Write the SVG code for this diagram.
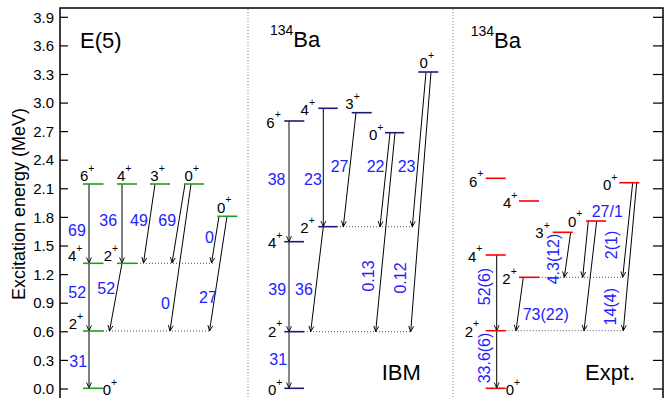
<svg xmlns="http://www.w3.org/2000/svg" width="667" height="398" viewBox="0 0 667 398">
<defs>
<style>
text{font-family:"Liberation Sans",Arial,sans-serif;}
.tick{font-size:15px;fill:#000;text-anchor:end;}
.lab{font-size:15px;fill:#000;}
.sup{font-size:10.5px;}
.num{font-size:16px;fill:#2121ff;}
.rot{font-size:16px;fill:#2121ff;text-anchor:middle;}
.title{font-size:22px;fill:#000;}
.g{stroke:#1f9f1f;stroke-width:1.6;}
.b{stroke:#1c1c78;stroke-width:1.6;}
.r{stroke:#ff0000;stroke-width:1.6;}
.arr{stroke:#000;stroke-width:1;fill:none;marker-end:url(#ah);}
.arrg{stroke:#555;stroke-width:1.4;fill:none;marker-end:url(#ah);}
.dot{stroke:#555;stroke-width:1;stroke-dasharray:1,2;}
.div{stroke:#888;stroke-width:1;stroke-dasharray:1,2;}
.ax{stroke:#000;stroke-width:1.5;fill:none;}
.tk{stroke:#000;stroke-width:1.2;}
</style>
<marker id="ah" viewBox="0 0 10 10" refX="9" refY="5" markerWidth="7" markerHeight="7" markerUnits="userSpaceOnUse" orient="auto">
<path d="M1,1.5 L9,5 L1,8.5" fill="none" stroke="#000" stroke-width="1.3"/>
</marker>
</defs>
<rect width="667" height="398" fill="#fff"/>

<g id="axes">
<path class="ax" d="M60,398 L60,8 L663,8 L663,398"/>
<g class="tk">
<line x1="60" y1="17.3" x2="68" y2="17.3"/><line x1="60" y1="45.9" x2="68" y2="45.9"/>
<line x1="60" y1="74.5" x2="68" y2="74.5"/><line x1="60" y1="103.1" x2="68" y2="103.1"/>
<line x1="60" y1="131.6" x2="68" y2="131.6"/><line x1="60" y1="160.2" x2="68" y2="160.2"/>
<line x1="60" y1="188.8" x2="68" y2="188.8"/><line x1="60" y1="217.4" x2="68" y2="217.4"/>
<line x1="60" y1="246" x2="68" y2="246"/><line x1="60" y1="274.6" x2="68" y2="274.6"/>
<line x1="60" y1="303.2" x2="68" y2="303.2"/><line x1="60" y1="331.8" x2="68" y2="331.8"/>
<line x1="60" y1="360.4" x2="68" y2="360.4"/><line x1="60" y1="389" x2="68" y2="389"/>
<line x1="653" y1="17.3" x2="663" y2="17.3"/><line x1="653" y1="45.9" x2="663" y2="45.9"/>
<line x1="653" y1="74.5" x2="663" y2="74.5"/><line x1="653" y1="103.1" x2="663" y2="103.1"/>
<line x1="653" y1="131.6" x2="663" y2="131.6"/><line x1="653" y1="160.2" x2="663" y2="160.2"/>
<line x1="653" y1="188.8" x2="663" y2="188.8"/><line x1="653" y1="217.4" x2="663" y2="217.4"/>
<line x1="653" y1="246" x2="663" y2="246"/><line x1="653" y1="274.6" x2="663" y2="274.6"/>
<line x1="653" y1="303.2" x2="663" y2="303.2"/><line x1="653" y1="331.8" x2="663" y2="331.8"/>
<line x1="653" y1="360.4" x2="663" y2="360.4"/><line x1="653" y1="389" x2="663" y2="389"/>
</g>
<text class="tick" x="54" y="22.5">3.9</text><text class="tick" x="54" y="51.1">3.6</text>
<text class="tick" x="54" y="79.7">3.3</text><text class="tick" x="54" y="108.3">3.0</text>
<text class="tick" x="54" y="136.8">2.7</text><text class="tick" x="54" y="165.4">2.4</text>
<text class="tick" x="54" y="194">2.1</text><text class="tick" x="54" y="222.6">1.8</text>
<text class="tick" x="54" y="251.2">1.5</text><text class="tick" x="54" y="279.8">1.2</text>
<text class="tick" x="54" y="308.4">0.9</text><text class="tick" x="54" y="337">0.6</text>
<text class="tick" x="54" y="365.6">0.3</text><text class="tick" x="54" y="394.2">0.0</text>
<text x="25" y="204" font-size="18" text-anchor="middle" transform="rotate(-90 25 204)">Excitation energy (MeV)</text>
<line class="div" x1="248" y1="9" x2="248" y2="398"/>
<line class="div" x1="453" y1="9" x2="453" y2="398"/>
</g>

<g id="connectors">
<line class="dot" x1="137" y1="263.3" x2="214" y2="263.3"/>
<line class="dot" x1="103" y1="331" x2="211" y2="331"/>
<path class="arr" d="M89,184 L89,263"/>
<path class="arr" d="M89,263 L89,331"/>
<path class="arr" d="M89,331 L89,388"/>
<path class="arr" d="M122,184 L122,263"/>
<path class="arr" d="M122,263.3 L109.5,331"/>
<path class="arr" d="M155,184 L143.5,263"/>
<path class="arr" d="M185,184 L172,263"/>
<path class="arr" d="M191,184 L170,331"/>
<path class="arr" d="M219,216.3 L211.5,263"/>
<path class="arr" d="M227,216.3 L209.5,331"/>
<line class="dot" x1="337" y1="226.7" x2="413" y2="226.7"/>
<line class="dot" x1="304" y1="331.7" x2="412" y2="331.7"/>
<path class="arrg" d="M289,121 L289,241.7"/>
<path class="arrg" d="M289,241.7 L289,331.7"/>
<path class="arrg" d="M289,331.7 L289,388"/>
<path class="arr" d="M323.3,108.3 L323.3,226.7"/>
<path class="arr" d="M323.3,226.7 L310.7,331.7"/>
<path class="arr" d="M356,112.7 L343.3,226.7"/>
<path class="arr" d="M390,132.7 L380,226.7"/>
<path class="arr" d="M395,132.7 L375.7,331.7"/>
<path class="arr" d="M426,72 L412.3,226.7"/>
<path class="arr" d="M431,72 L410.7,331.7"/>
<line class="dot" x1="539" y1="277.3" x2="623" y2="277.3"/>
<line class="dot" x1="505.7" y1="330.7" x2="623" y2="330.7"/>
<path class="arr" d="M496.7,255 L496.7,330.7"/>
<path class="arr" d="M496.7,330.7 L496.7,388"/>
<path class="arr" d="M523.3,277.3 L516,330.7"/>
<path class="arr" d="M570.7,232.3 L564.3,277.3"/>
<path class="arr" d="M588.3,221 L582.7,277.3"/>
<path class="arr" d="M596.7,221 L584,330.7"/>
<path class="arr" d="M632.7,182.7 L622.7,277.3"/>
<path class="arr" d="M636.7,182.7 L623.3,330.7"/>
</g>

<g id="panel-e5">
<text class="title" x="80" y="48">E(5)</text>
<g id="e5-6"><line class="g" x1="83" y1="184" x2="103.5" y2="184"/><text class="lab" x="80" y="181.3">6<tspan class="sup" dy="-9.5">+</tspan></text></g>
<g id="e5-4a"><line class="g" x1="117" y1="184" x2="137" y2="184"/><text class="lab" x="117" y="181.3">4<tspan class="sup" dy="-9.5">+</tspan></text></g>
<g id="e5-3"><line class="g" x1="150" y1="184" x2="170" y2="184"/><text class="lab" x="150.3" y="181.3">3<tspan class="sup" dy="-9.5">+</tspan></text></g>
<g id="e5-0a"><line class="g" x1="184" y1="184" x2="204" y2="184"/><text class="lab" x="184.6" y="181.3">0<tspan class="sup" dy="-9.5">+</tspan></text></g>
<g id="e5-0b"><line class="g" x1="217.3" y1="216.3" x2="237.3" y2="216.3"/><text class="lab" x="217" y="212.7">0<tspan class="sup" dy="-9.5">+</tspan></text></g>
<g id="e5-4b"><line class="g" x1="83" y1="263.3" x2="103.5" y2="263.3"/><text class="lab" x="68" y="261">4<tspan class="sup" dy="-9.5">+</tspan></text></g>
<g id="e5-2a"><line class="g" x1="117" y1="263.3" x2="137" y2="263.3"/><text class="lab" x="103.7" y="261">2<tspan class="sup" dy="-9.5">+</tspan></text></g>
<g id="e5-2b"><line class="g" x1="83" y1="331" x2="103.5" y2="331"/><text class="lab" x="68.7" y="329.3">2<tspan class="sup" dy="-9.5">+</tspan></text></g>
<g id="e5-0c"><line class="g" x1="83" y1="388.3" x2="103.5" y2="388.3"/><text class="lab" x="102.7" y="395">0<tspan class="sup" dy="-9.5">+</tspan></text></g>
<text class="num" x="68" y="235.7">69</text>
<text class="num" x="99.3" y="225.7">36</text>
<text class="num" x="130" y="225.7">49</text>
<text class="num" x="158.3" y="225.7">69</text>
<text class="num" x="205" y="242.7">0</text>
<text class="num" x="68.3" y="298.3">52</text>
<text class="num" x="97.3" y="294">52</text>
<text class="num" x="161" y="309.3">0</text>
<text class="num" x="199" y="303.3">27</text>
<text class="num" x="69.3" y="366.7">31</text>
</g>

<g id="panel-ibm">
<text class="title" x="270" y="47"><tspan font-size="14" dy="-12">134</tspan><tspan dy="12">Ba</tspan></text>
<g id="ibm-6"><line class="b" x1="284.3" y1="121" x2="304.3" y2="121"/><text class="lab" x="266.3" y="127.7">6<tspan class="sup" dy="-9.5">+</tspan></text></g>
<g id="ibm-4a"><line class="b" x1="318.3" y1="108.3" x2="337.7" y2="108.3"/><text class="lab" x="300.6" y="115">4<tspan class="sup" dy="-9.5">+</tspan></text></g>
<g id="ibm-3"><line class="b" x1="351.7" y1="112.7" x2="371.7" y2="112.7"/><text class="lab" x="345.3" y="109.3">3<tspan class="sup" dy="-9.5">+</tspan></text></g>
<g id="ibm-0a"><line class="b" x1="385" y1="132.7" x2="404.3" y2="132.7"/><text class="lab" x="369" y="140">0<tspan class="sup" dy="-9.5">+</tspan></text></g>
<g id="ibm-0b"><line class="b" x1="418.3" y1="72" x2="438.3" y2="72"/><text class="lab" x="419.6" y="68.3">0<tspan class="sup" dy="-9.5">+</tspan></text></g>
<g id="ibm-2a"><line class="b" x1="318.3" y1="226.7" x2="337.3" y2="226.7"/><text class="lab" x="300.3" y="233.3">2<tspan class="sup" dy="-9.5">+</tspan></text></g>
<g id="ibm-4b"><line class="b" x1="284.3" y1="241.7" x2="304" y2="241.7"/><text class="lab" x="268" y="248.3">4<tspan class="sup" dy="-9.5">+</tspan></text></g>
<g id="ibm-2b"><line class="b" x1="284.3" y1="331.7" x2="304" y2="331.7"/><text class="lab" x="268" y="336.7">2<tspan class="sup" dy="-9.5">+</tspan></text></g>
<g id="ibm-0c"><line class="b" x1="284.3" y1="388.3" x2="304" y2="388.3"/><text class="lab" x="268" y="395">0<tspan class="sup" dy="-9.5">+</tspan></text></g>
<text class="num" x="267.7" y="185">38</text>
<text class="num" x="304" y="185">23</text>
<text class="num" x="330.7" y="172.3">27</text>
<text class="num" x="366.7" y="172.3">22</text>
<text class="num" x="397.7" y="172.3">23</text>
<text class="num" x="268.3" y="295">39</text>
<text class="num" x="295" y="295">36</text>
<text class="num" x="269.3" y="365">31</text>
<text class="rot" x="374" y="276" transform="rotate(-90 374 276)">0.13</text>
<text class="rot" x="406" y="278" transform="rotate(-90 406 278)">0.12</text>
<text class="title" x="381.7" y="380">IBM</text>
</g>

<g id="panel-expt">
<text class="title" x="470.7" y="48"><tspan font-size="14" dy="-12">134</tspan><tspan dy="12">Ba</tspan></text>
<g id="ex-6"><line class="r" x1="485.7" y1="178.3" x2="505.7" y2="178.3"/><text class="lab" x="469" y="186.7">6<tspan class="sup" dy="-9.5">+</tspan></text></g>
<g id="ex-4a"><line class="r" x1="519" y1="201" x2="539" y2="201"/><text class="lab" x="503" y="208.3">4<tspan class="sup" dy="-9.5">+</tspan></text></g>
<g id="ex-0a"><line class="r" x1="619.3" y1="182.7" x2="639.3" y2="182.7"/><text class="lab" x="603" y="190">0<tspan class="sup" dy="-9.5">+</tspan></text></g>
<g id="ex-0b"><line class="r" x1="586" y1="221" x2="606" y2="221"/><text class="lab" x="568" y="226.7">0<tspan class="sup" dy="-9.5">+</tspan></text></g>
<g id="ex-3"><line class="r" x1="552.7" y1="232.3" x2="572.7" y2="232.3"/><text class="lab" x="535.3" y="238.3">3<tspan class="sup" dy="-9.5">+</tspan></text></g>
<g id="ex-4b"><line class="r" x1="485.7" y1="255" x2="505.7" y2="255"/><text class="lab" x="468" y="261.7">4<tspan class="sup" dy="-9.5">+</tspan></text></g>
<g id="ex-2a"><line class="r" x1="519" y1="277.3" x2="539" y2="277.3"/><text class="lab" x="502.3" y="284">2<tspan class="sup" dy="-9.5">+</tspan></text></g>
<g id="ex-2b"><line class="r" x1="485.7" y1="330.7" x2="505.7" y2="330.7"/><text class="lab" x="464.7" y="336.7">2<tspan class="sup" dy="-9.5">+</tspan></text></g>
<g id="ex-0c"><line class="r" x1="485.7" y1="388.3" x2="505.7" y2="388.3"/><text class="lab" x="505.7" y="395">0<tspan class="sup" dy="-9.5">+</tspan></text></g>
<text class="rot" x="490" y="286.5" transform="rotate(-90 490 286.5)">52(6)</text>
<text class="rot" x="490" y="358" transform="rotate(-90 490 358)">33.6(6)</text>
<text class="num" x="522.7" y="320">73(22)</text>
<text class="rot" x="559" y="259" transform="rotate(-90 559 259)">4.3(12)</text>
<text class="num" x="591.7" y="216.7">27/1</text>
<text class="rot" x="617" y="245" transform="rotate(-90 617 245)">2(1)</text>
<text class="rot" x="616" y="306.7" transform="rotate(-90 616 306.7)">14(4)</text>
<text class="title" x="585" y="380">Expt.</text>
</g>
</svg>
